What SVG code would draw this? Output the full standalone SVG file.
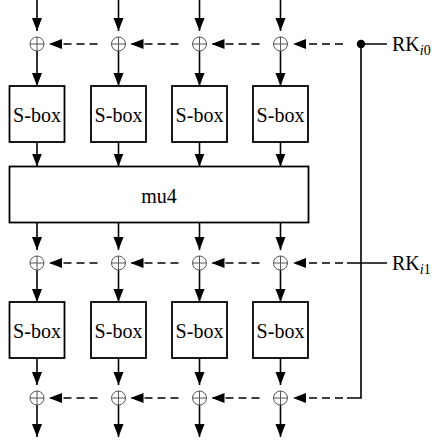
<svg xmlns="http://www.w3.org/2000/svg" width="434" height="442" viewBox="0 0 434 442">
<defs>
<style>
.ln{stroke:#000;stroke-width:1.6;fill:none}
.ds{stroke:#000;stroke-width:1.6;fill:none;stroke-dasharray:8 5}
.box{fill:#fff;stroke:#000;stroke-width:1.8}
.xor{fill:#fff;stroke:#555;stroke-width:1}
</style>
<marker id="ah" markerUnits="userSpaceOnUse" markerWidth="14" markerHeight="11" refX="13" refY="5" orient="auto">
<path d="M0,0 L13,5 L0,10 z" fill="#000"/>
</marker>
<g id="xorsym">
<circle cx="0" cy="0" r="7" class="xor"/>
<path d="M-7,0 H7 M0,-7 V7" stroke="#555" stroke-width="1"/>
</g>
</defs>

<g id="connectors">
<path class="ln" d="M37,0 V31" marker-end="url(#ah)"/>
<path class="ln" d="M37,51 V86" marker-end="url(#ah)"/>
<path class="ln" d="M37,142 V166.5" marker-end="url(#ah)"/>
<path class="ln" d="M37,222.5 V250" marker-end="url(#ah)"/>
<path class="ln" d="M37,270 V302" marker-end="url(#ah)"/>
<path class="ln" d="M37,358 V385" marker-end="url(#ah)"/>
<path class="ln" d="M37,405 V437" marker-end="url(#ah)"/>

<path class="ln" d="M118.5,0 V31" marker-end="url(#ah)"/>
<path class="ln" d="M118.5,51 V86" marker-end="url(#ah)"/>
<path class="ln" d="M118.5,142 V166.5" marker-end="url(#ah)"/>
<path class="ln" d="M118.5,222.5 V250" marker-end="url(#ah)"/>
<path class="ln" d="M118.5,270 V302" marker-end="url(#ah)"/>
<path class="ln" d="M118.5,358 V385" marker-end="url(#ah)"/>
<path class="ln" d="M118.5,405 V437" marker-end="url(#ah)"/>

<path class="ln" d="M199.5,0 V31" marker-end="url(#ah)"/>
<path class="ln" d="M199.5,51 V86" marker-end="url(#ah)"/>
<path class="ln" d="M199.5,142 V166.5" marker-end="url(#ah)"/>
<path class="ln" d="M199.5,222.5 V250" marker-end="url(#ah)"/>
<path class="ln" d="M199.5,270 V302" marker-end="url(#ah)"/>
<path class="ln" d="M199.5,358 V385" marker-end="url(#ah)"/>
<path class="ln" d="M199.5,405 V437" marker-end="url(#ah)"/>

<path class="ln" d="M280.5,0 V31" marker-end="url(#ah)"/>
<path class="ln" d="M280.5,51 V86" marker-end="url(#ah)"/>
<path class="ln" d="M280.5,142 V166.5" marker-end="url(#ah)"/>
<path class="ln" d="M280.5,222.5 V250" marker-end="url(#ah)"/>
<path class="ln" d="M280.5,270 V302" marker-end="url(#ah)"/>
<path class="ln" d="M280.5,358 V385" marker-end="url(#ah)"/>
<path class="ln" d="M280.5,405 V437" marker-end="url(#ah)"/>

<path class="ln" d="M387,44 H361 V398 H347"/>
<path class="ln" d="M387,263 H347"/>
<circle cx="361" cy="44" r="4.2" fill="#000"/>

<path class="ds" d="M97.5,44 H49" marker-end="url(#ah)"/>
<path class="ds" d="M178.5,44 H130.5" marker-end="url(#ah)"/>
<path class="ds" d="M259.5,44 H211.5" marker-end="url(#ah)"/>
<path class="ds" d="M343,44 H293" marker-end="url(#ah)"/>

<path class="ds" d="M97.5,263 H49" marker-end="url(#ah)"/>
<path class="ds" d="M178.5,263 H130.5" marker-end="url(#ah)"/>
<path class="ds" d="M259.5,263 H211.5" marker-end="url(#ah)"/>
<path class="ds" d="M343,263 H293" marker-end="url(#ah)"/>

<path class="ds" d="M97.5,398 H49" marker-end="url(#ah)"/>
<path class="ds" d="M178.5,398 H130.5" marker-end="url(#ah)"/>
<path class="ds" d="M259.5,398 H211.5" marker-end="url(#ah)"/>
<path class="ds" d="M343,398 H293" marker-end="url(#ah)"/>
</g>

<g id="xor-row1">
<use href="#xorsym" x="37" y="44"/>
<use href="#xorsym" x="118.5" y="44"/>
<use href="#xorsym" x="199.5" y="44"/>
<use href="#xorsym" x="280.5" y="44"/>
</g>
<g id="xor-row2">
<use href="#xorsym" x="37" y="263"/>
<use href="#xorsym" x="118.5" y="263"/>
<use href="#xorsym" x="199.5" y="263"/>
<use href="#xorsym" x="280.5" y="263"/>
</g>
<g id="xor-row3">
<use href="#xorsym" x="37" y="398"/>
<use href="#xorsym" x="118.5" y="398"/>
<use href="#xorsym" x="199.5" y="398"/>
<use href="#xorsym" x="280.5" y="398"/>
</g>

<g font-family="'Liberation Serif', 'DejaVu Serif', serif" font-size="20" text-anchor="middle" fill="#000">
<g id="sbox1-1"><rect class="box" x="9.5" y="86" width="55" height="56"/><text x="37" y="121.5">S-box</text></g>
<g id="sbox1-2"><rect class="box" x="91" y="86" width="55" height="56"/><text x="118.5" y="121.5">S-box</text></g>
<g id="sbox1-3"><rect class="box" x="172" y="86" width="55" height="56"/><text x="199.5" y="121.5">S-box</text></g>
<g id="sbox1-4"><rect class="box" x="253" y="86" width="55" height="56"/><text x="280.5" y="121.5">S-box</text></g>

<g id="mu4"><rect class="box" x="9.5" y="166.5" width="299" height="56"/><text x="159" y="203">mu4</text></g>

<g id="sbox2-1"><rect class="box" x="9.5" y="302" width="55" height="56"/><text x="37" y="337.5">S-box</text></g>
<g id="sbox2-2"><rect class="box" x="91" y="302" width="55" height="56"/><text x="118.5" y="337.5">S-box</text></g>
<g id="sbox2-3"><rect class="box" x="172" y="302" width="55" height="56"/><text x="199.5" y="337.5">S-box</text></g>
<g id="sbox2-4"><rect class="box" x="253" y="302" width="55" height="56"/><text x="280.5" y="337.5">S-box</text></g>
</g>

<g font-family="'Liberation Serif', 'DejaVu Serif', serif" font-size="20" fill="#000">
<g id="rk0"><text x="392" y="51">RK<tspan font-size="14" font-style="italic" dy="4">i</tspan><tspan font-size="14">0</tspan></text></g>
<g id="rk1"><text x="392" y="270">RK<tspan font-size="14" font-style="italic" dy="4">i</tspan><tspan font-size="14">1</tspan></text></g>
</g>
</svg>
